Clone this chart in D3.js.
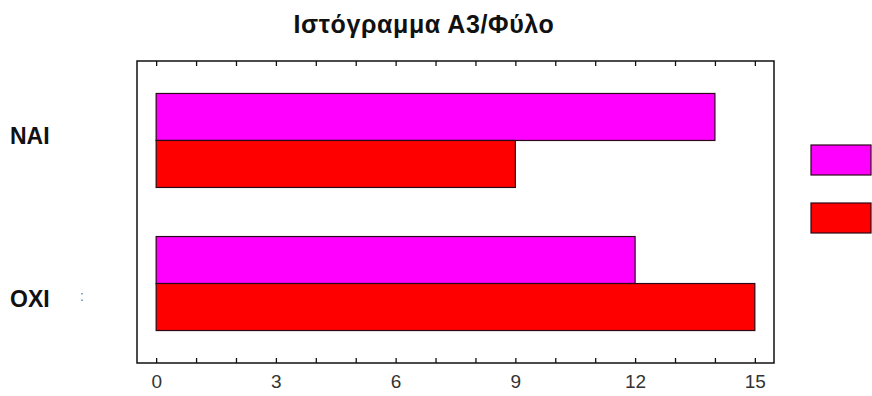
<!DOCTYPE html>
<html>
<head>
<meta charset="utf-8">
<script src="https://cdn.jsdelivr.net/npm/d3@7"></script>
<style>
  html, body { margin: 0; padding: 0; background: #ffffff; }
  svg { display: block; }
</style>
</head>
<body>
<svg id="chart" width="872" height="396"></svg>
<script>
// ---- data ----
const title = "Ιστόγραμμα Α3/Φύλο";
const categories = ["NAI", "OXI"];
const seriesNames = ["Σειρά 1", "Σειρά 2"];
const seriesMagenta = [14, 12];
const seriesRed = [9, 15];
const tickValues = d3.range(0, 16);
const tickLabels = [0, 3, 6, 9, 12, 15];

const seriesValues = [seriesMagenta, seriesRed];
const colors = ["#ff00ff", "#ff0000"];

const svg = d3.select("#chart");
const frame = { left: 137, right: 774, top: 61, bottom: 363 };

const x = d3.scaleLinear().domain([-0.48, 15.48]).range([frame.left, frame.right]);
const y = d3.scaleBand().domain(categories)
  .range([frame.top, frame.bottom]).paddingInner(0.343).paddingOuter(0.227);
const ySub = d3.scaleBand().domain(seriesNames).range([0, y.bandwidth()]).padding(0);
const yLabel = d3.scalePoint().domain(categories).range([144, 307]);

// frame
svg.append("rect")
  .attr("x", frame.left).attr("y", frame.top)
  .attr("width", frame.right - frame.left).attr("height", frame.bottom - frame.top)
  .attr("fill", "#ffffff").attr("stroke", "#111").attr("stroke-width", 1.5);

// bars
const rows = [];
categories.forEach((c, i) => {
  seriesNames.forEach((s, j) => rows.push({ cat: c, series: s, value: seriesValues[j][i], color: colors[j] }));
});
svg.append("g").selectAll("rect").data(rows).join("rect")
  .attr("x", x(0))
  .attr("y", d => y(d.cat) + ySub(d.series))
  .attr("width", d => x(d.value) - x(0))
  .attr("height", ySub.bandwidth())
  .attr("fill", d => d.color)
  .attr("stroke", "#2a0818").attr("stroke-width", 1.2);

// axes
const fmt = d => tickLabels.includes(d) ? String(d) : "";
const bottomAxis = svg.append("g").attr("transform", `translate(0,${frame.bottom})`)
  .call(d3.axisBottom(x).tickValues(tickValues).tickSizeInner(-5).tickSizeOuter(0).tickPadding(12).tickFormat(fmt));
bottomAxis.select(".domain").remove();
bottomAxis.selectAll("line").attr("stroke", "#111").attr("stroke-width", 1.3);
bottomAxis.selectAll("text")
  .attr("font-family", "'Liberation Sans Narrow', 'Liberation Sans', sans-serif")
  .attr("font-size", 19).attr("fill", "#333");

const topAxis = svg.append("g").attr("transform", `translate(0,${frame.top})`)
  .call(d3.axisTop(x).tickValues(tickValues).tickSizeInner(-5).tickSizeOuter(0).tickFormat(""));
topAxis.select(".domain").remove();
topAxis.selectAll("line").attr("stroke", "#111").attr("stroke-width", 1.3);

// category labels
svg.append("g").selectAll("text").data(categories).join("text")
  .attr("x", 10).attr("y", d => yLabel(d))
  .attr("font-family", "'Liberation Sans', Arial, sans-serif")
  .attr("font-weight", "bold").attr("font-size", 23).attr("fill", "#111")
  .text(d => d);

// small artifact mark next to OXI
svg.append("text").attr("x", 80).attr("y", yLabel("OXI") - 6)
  .attr("font-family", "'Liberation Sans', sans-serif").attr("font-size", 14)
  .attr("fill", "#777").text(":");

// title
svg.append("text").attr("x", 424).attr("y", 33).attr("text-anchor", "middle")
  .attr("font-family", "'Liberation Sans', Arial, sans-serif")
  .attr("font-weight", "bold").attr("font-size", 25).attr("letter-spacing", 0.6)
  .attr("fill", "#111")
  .text(title);

// legend (swatches only, text is cut off in the reference)
const yLeg = d3.scalePoint().domain(seriesNames).range([145, 203]);
svg.append("g").selectAll("rect").data(seriesNames).join("rect")
  .attr("x", 811).attr("y", d => yLeg(d))
  .attr("width", 60).attr("height", 30)
  .attr("fill", (d, i) => colors[i])
  .attr("stroke", "#2a0818").attr("stroke-width", 1.2);
</script>
</body>
</html>
